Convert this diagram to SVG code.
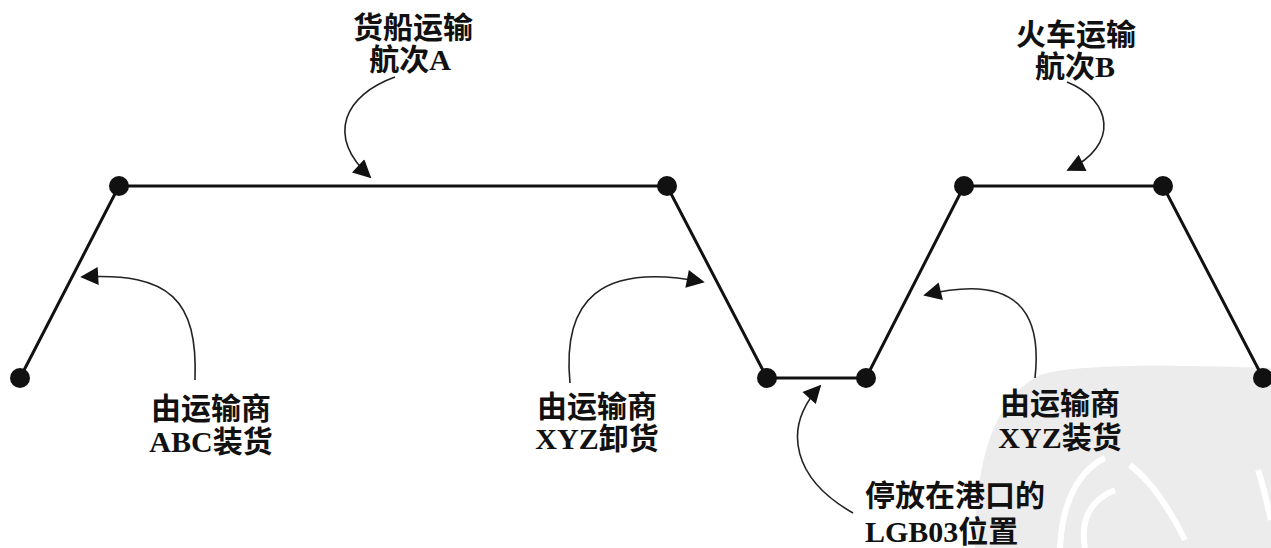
<svg xmlns="http://www.w3.org/2000/svg" width="1271" height="548" viewBox="0 0 1271 548">
<style>
.t{font-family:"Liberation Serif","Noto Sans CJK SC",serif;font-size:30px;font-weight:bold;fill:#111;}
.track{fill:none;stroke:#111;stroke-width:3;}
.call{fill:none;stroke:#222;stroke-width:1.6;}
.dot{fill:#111;}
</style>
<defs>
<marker id="ah" viewBox="0 0 10 10" refX="9" refY="5" markerWidth="24" markerHeight="18" markerUnits="userSpaceOnUse" orient="auto">
<path d="M0,0 L10,5 L0,10 Z" fill="#111"/>
</marker>
</defs>
<rect width="1271" height="548" fill="#fff"/>
<g id="watermark">
<path d="M975,548 C975,470 990,400 1040,375 C1080,362 1200,366 1271,368 L1271,548 Z" fill="#ececec"/>
<path d="M1060,548 C1062,500 1080,470 1105,458" fill="none" stroke="#fff" stroke-width="6"/>
<path d="M1085,548 C1080,520 1090,500 1115,490" fill="none" stroke="#fff" stroke-width="6"/>
<path d="M1130,465 C1150,480 1170,510 1185,540" fill="none" stroke="#fff" stroke-width="6"/>
<path d="M1258,470 C1265,490 1268,510 1271,520" fill="none" stroke="#fff" stroke-width="6"/>
</g>
<g id="connectors">
<polyline class="track" points="20,378 119,186 667,186 767,378 866,378 964,186 1163,186 1263,378"/>
<path class="call" d="M395,77 C345,95 325,135 370,177" marker-end="url(#ah)"/>
<path class="call" d="M1067,82 C1112,100 1120,145 1068,170" marker-end="url(#ah)"/>
<path class="call" d="M195,380 C198,300 170,272 82,277" marker-end="url(#ah)"/>
<path class="call" d="M570,383 C562,300 600,262 703,282" marker-end="url(#ah)"/>
<path class="call" d="M853,513 C795,480 780,430 820,386" marker-end="url(#ah)"/>
<path class="call" d="M1035,378 C1042,315 1020,272 925,295" marker-end="url(#ah)"/>
</g>
<g id="n1"><circle class="dot" cx="20" cy="378" r="10"/></g>
<g id="n2"><circle class="dot" cx="119" cy="186" r="10"/></g>
<g id="n3"><circle class="dot" cx="667" cy="186" r="10"/></g>
<g id="n4"><circle class="dot" cx="767" cy="378" r="10"/></g>
<g id="n5"><circle class="dot" cx="866" cy="378" r="10"/></g>
<g id="n6"><circle class="dot" cx="964" cy="186" r="10"/></g>
<g id="n7"><circle class="dot" cx="1163" cy="186" r="10"/></g>
<g id="n8"><circle class="dot" cx="1263" cy="378" r="10"/></g>
<g id="label-ship">
<text class="t" x="413" y="38" text-anchor="middle">货船运输</text>
<text class="t" x="410" y="70" text-anchor="middle">航次A</text>
</g>
<g id="label-train">
<text class="t" x="1076" y="45" text-anchor="middle">火车运输</text>
<text class="t" x="1075" y="77" text-anchor="middle">航次B</text>
</g>
<g id="label-abc">
<text class="t" x="211" y="419" text-anchor="middle">由运输商</text>
<text class="t" x="211" y="452" text-anchor="middle">ABC装货</text>
</g>
<g id="label-xyz-unload">
<text class="t" x="597" y="417" text-anchor="middle">由运输商</text>
<text class="t" x="597" y="449" text-anchor="middle">XYZ卸货</text>
</g>
<g id="label-xyz-load">
<text class="t" x="1060" y="414" text-anchor="middle">由运输商</text>
<text class="t" x="1060" y="448" text-anchor="middle">XYZ装货</text>
</g>
<g id="label-port">
<text class="t" x="865" y="506">停放在港口的</text>
<text class="t" x="865" y="542">LGB03位置</text>
</g>
</svg>
